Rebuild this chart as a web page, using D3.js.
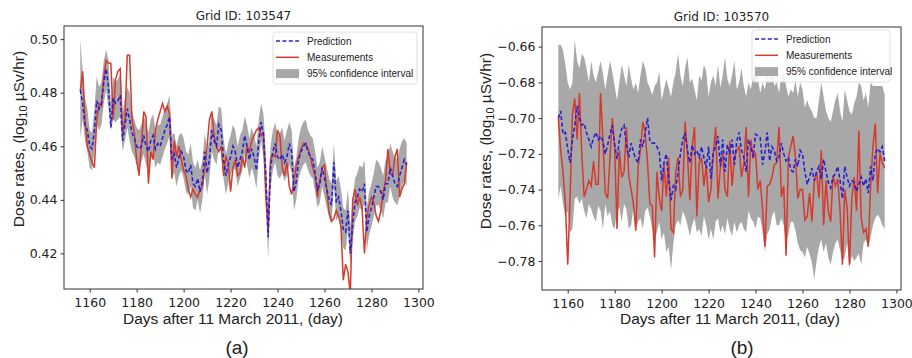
<!DOCTYPE html>
<html>
<head>
<meta charset="utf-8">
<script src="https://cdn.jsdelivr.net/npm/d3@7"></script>
<style>
  body { margin: 0; background: #fff; }
  svg text { fill: #222; }
</style>
</head>
<body>
<svg id="chart" width="912" height="358"></svg>
<script>
// days after 11 March 2011, one value per day
const days = d3.range(1156, 1296)

// ---- Grid ID 103547 ----
const predA = [
  .481,.476,.468,.466,.460,.459,.466,.477,.474,.476,
  .484,.489,.482,.467,.478,.476,.477,.479,.462,.468,
  .474,.470,.465,.463,.460,.459,.460,.464,.460,.458,
  .462,.464,.459,.461,.460,.463,.466,.468,.471,.455,
  .457,.452,.456,.458,.456,.451,.450,.453,.446,.445,
  .448,.443,.447,.458,.450,.455,.466,.462,.460,.468,
  .466,.455,.449,.453,.456,.460,.458,.452,.455,.458,
  .464,.460,.455,.459,.456,.451,.462,.469,.464,.449,
  .426,.452,.458,.461,.456,.455,.457,.454,.456,.461,
  .458,.443,.447,.455,.458,.460,.461,.458,.456,.455,
  .450,.444,.446,.452,.448,.444,.440,.438,.454,.439,
  .441,.436,.429,.428,.436,.420,.431,.439,.441,.444,
  .443,.446,.428,.434,.437,.441,.445,.445,.443,.440,
  .446,.446,.452,.449,.446,.445,.449,.452,.455,.453]
const measA = [
  .481,.488,.470,.460,.457,.454,.452,.470,.476,.475,
  .486,.492,.491,.491,.470,.485,.488,.489,.465,.470,
  .494,.494,.470,.465,.455,.449,.460,.473,.471,.446,
  .458,.455,.466,.470,.473,.476,.473,.475,.472,.448,
  .462,.456,.460,.455,.451,.449,.444,.441,.444,.442,
  .441,.444,.445,.452,.460,.470,.473,.464,.460,.458,
  .460,.449,.456,.454,.443,.452,.455,.449,.450,.456,
  .452,.460,.458,.462,.464,.466,.467,.464,.465,.441,
  .429,.455,.457,.456,.466,.464,.452,.449,.454,.445,
  .442,.447,.453,.456,.459,.461,.461,.459,.456,.452,
  .449,.441,.447,.452,.453,.443,.435,.432,.433,.436,
  .434,.430,.410,.416,.413,.405,.440,.444,.438,.441,
  .437,.420,.433,.438,.441,.439,.434,.432,.436,.443,
  .447,.459,.450,.449,.456,.459,.441,.444,.446,.454]
const upperA = [
  .500,.488,.478,.474,.466,.465,.474,.486,.482,.484,
  .492,.496,.492,.476,.486,.484,.485,.487,.472,.478,
  .482,.480,.473,.470,.467,.466,.468,.472,.468,.465,
  .470,.472,.466,.468,.468,.471,.474,.476,.479,.464,
  .465,.460,.464,.465,.463,.458,.457,.461,.454,.452,
  .455,.451,.455,.465,.458,.463,.473,.470,.468,.475,
  .474,.463,.457,.461,.464,.468,.466,.460,.464,.466,
  .471,.468,.463,.467,.464,.460,.470,.476,.472,.458,
  .436,.460,.466,.469,.464,.465,.467,.462,.466,.469,
  .466,.452,.456,.463,.467,.469,.470,.466,.464,.463,
  .458,.452,.454,.460,.456,.452,.448,.446,.461,.447,
  .449,.444,.437,.436,.444,.430,.440,.448,.450,.453,
  .452,.455,.437,.443,.446,.450,.455,.454,.452,.449,
  .455,.456,.461,.458,.456,.455,.459,.462,.463,.461]
const lowerA = [
  .463,.470,.462,.458,.452,.451,.458,.468,.466,.468,
  .476,.481,.474,.466,.470,.469,.470,.471,.458,.462,
  .467,.462,.458,.456,.453,.452,.454,.457,.453,.451,
  .455,.457,.452,.454,.453,.456,.459,.461,.464,.448,
  .450,.445,.449,.451,.448,.443,.442,.445,.437,.436,
  .440,.435,.440,.450,.442,.448,.458,.455,.453,.460,
  .458,.448,.442,.446,.449,.452,.451,.445,.448,.451,
  .457,.453,.448,.452,.449,.444,.455,.462,.456,.440,
  .418,.444,.451,.454,.449,.448,.450,.447,.449,.453,
  .450,.436,.440,.448,.451,.453,.454,.451,.449,.448,
  .443,.437,.439,.445,.441,.437,.433,.431,.446,.432,
  .434,.428,.422,.421,.429,.415,.424,.432,.434,.437,
  .436,.439,.421,.427,.430,.434,.438,.438,.436,.433,
  .439,.439,.445,.441,.439,.438,.441,.445,.447,.445]

// ---- Grid ID 103570 ----
const predB = [
  -.700,-.696,-.709,-.708,-.717,-.725,-.712,-.704,-.693,-.700,
  -.704,-.703,-.708,-.712,-.716,-.711,-.708,-.712,-.710,-.713,
  -.720,-.715,-.709,-.704,-.715,-.723,-.712,-.706,-.704,-.715,
  -.722,-.714,-.719,-.723,-.725,-.712,-.716,-.708,-.700,-.713,
  -.714,-.714,-.716,-.719,-.735,-.725,-.720,-.735,-.746,-.738,
  -.740,-.730,-.720,-.712,-.708,-.718,-.725,-.715,-.720,-.718,
  -.722,-.716,-.722,-.728,-.716,-.734,-.719,-.716,-.710,-.727,
  -.712,-.730,-.715,-.720,-.712,-.726,-.713,-.708,-.718,-.722,
  -.730,-.712,-.716,-.722,-.709,-.710,-.711,-.726,-.719,-.708,
  -.724,-.716,-.718,-.724,-.722,-.714,-.720,-.724,-.722,-.729,
  -.730,-.723,-.727,-.718,-.720,-.730,-.737,-.733,-.728,-.735,
  -.730,-.727,-.734,-.723,-.730,-.736,-.739,-.733,-.731,-.727,
  -.735,-.745,-.727,-.733,-.738,-.735,-.736,-.741,-.737,-.733,
  -.738,-.734,-.742,-.727,-.735,-.720,-.717,-.719,-.716,-.724]
const measB = [
  -.700,-.718,-.730,-.748,-.782,-.745,-.698,-.689,-.712,-.686,
  -.720,-.744,-.740,-.735,-.738,-.724,-.737,-.737,-.686,-.712,
  -.742,-.745,-.722,-.700,-.716,-.762,-.718,-.733,-.730,-.705,
  -.732,-.740,-.748,-.763,-.727,-.718,-.702,-.708,-.725,-.748,
  -.749,-.778,-.730,-.745,-.752,-.726,-.744,-.722,-.762,-.764,
  -.730,-.722,-.744,-.740,-.702,-.720,-.746,-.716,-.705,-.755,
  -.725,-.722,-.738,-.726,-.747,-.740,-.720,-.705,-.745,-.728,
  -.720,-.740,-.744,-.713,-.738,-.722,-.718,-.716,-.733,-.726,
  -.705,-.744,-.712,-.722,-.720,-.740,-.735,-.751,-.772,-.738,
  -.737,-.733,-.726,-.725,-.705,-.744,-.738,-.777,-.722,-.716,
  -.710,-.722,-.745,-.740,-.740,-.757,-.755,-.742,-.758,-.736,
  -.730,-.745,-.718,-.760,-.735,-.752,-.758,-.732,-.738,-.734,
  -.752,-.782,-.740,-.750,-.782,-.745,-.733,-.752,-.707,-.756,
  -.764,-.762,-.772,-.738,-.716,-.703,-.742,-.720,-.725,-.728]
const upperB = [
  -.659,-.659,-.662,-.670,-.680,-.684,-.680,-.656,-.668,-.672,
  -.664,-.666,-.672,-.680,-.668,-.676,-.680,-.674,-.668,-.675,
  -.684,-.676,-.668,-.674,-.682,-.690,-.680,-.670,-.676,-.682,
  -.670,-.678,-.684,-.680,-.686,-.676,-.668,-.672,-.680,-.683,
  -.687,-.682,-.680,-.674,-.690,-.684,-.678,-.683,-.688,-.680,
  -.674,-.664,-.676,-.682,-.672,-.666,-.680,-.678,-.684,-.690,
  -.676,-.679,-.670,-.674,-.688,-.680,-.676,-.682,-.670,-.683,
  -.676,-.666,-.678,-.682,-.676,-.668,-.684,-.680,-.672,-.682,
  -.688,-.680,-.684,-.676,-.674,-.678,-.686,-.680,-.684,-.676,
  -.680,-.672,-.682,-.680,-.686,-.676,-.674,-.682,-.688,-.684,
  -.686,-.679,-.688,-.680,-.684,-.694,-.690,-.694,-.696,-.700,
  -.700,-.690,-.680,-.688,-.696,-.700,-.702,-.696,-.690,-.686,
  -.696,-.702,-.684,-.690,-.696,-.698,-.692,-.688,-.680,-.682,
  -.690,-.686,-.694,-.680,-.682,-.682,-.682,-.682,-.682,-.687]
const lowerB = [
  -.745,-.738,-.748,-.755,-.752,-.764,-.762,-.745,-.744,-.748,
  -.745,-.752,-.756,-.748,-.751,-.755,-.758,-.749,-.752,-.762,
  -.748,-.755,-.752,-.760,-.762,-.752,-.750,-.758,-.748,-.751,
  -.762,-.760,-.750,-.762,-.758,-.756,-.762,-.752,-.750,-.755,
  -.762,-.768,-.764,-.758,-.768,-.764,-.775,-.772,-.785,-.770,
  -.760,-.757,-.760,-.752,-.755,-.760,-.766,-.760,-.756,-.764,
  -.762,-.766,-.755,-.760,-.768,-.762,-.768,-.758,-.756,-.764,
  -.760,-.765,-.756,-.762,-.766,-.758,-.764,-.760,-.758,-.762,
  -.764,-.752,-.756,-.758,-.762,-.755,-.756,-.764,-.775,-.765,
  -.762,-.755,-.752,-.760,-.760,-.756,-.760,-.770,-.765,-.758,
  -.758,-.763,-.770,-.774,-.775,-.778,-.772,-.776,-.781,-.790,
  -.780,-.772,-.768,-.775,-.770,-.778,-.782,-.775,-.770,-.768,
  -.774,-.780,-.778,-.770,-.784,-.777,-.780,-.778,-.776,-.782,
  -.770,-.768,-.772,-.767,-.760,-.756,-.754,-.756,-.760,-.762]

const xTicks = [1160, 1180, 1200, 1220, 1240, 1260, 1280, 1300]
const yTicksA = [0.42, 0.44, 0.46, 0.48, 0.50]
const yTicksB = [-0.78, -0.76, -0.74, -0.72, -0.70, -0.68, -0.66]

const legendItems = ["Prediction", "Measurements", "95% confidence interval"]
const PRED_COLOR = "#2a1fd2"
const MEAS_COLOR = "#d53a2c"
const BAND_COLOR = "#a8a8a8"

const svg = d3.select("#chart")
const tickFont = "'DejaVu Sans', sans-serif"
const labelFont = "'Liberation Sans', Arial, sans-serif"

function panel(cfg) {
  const x = d3.scaleLinear().domain([1149.05, 1301.95]).range([cfg.left, cfg.right])
  const y = d3.scaleLinear().domain(cfg.ydom).range([cfg.bottom, cfg.top])
  const g = svg.append("g")

  g.append("clipPath").attr("id", "clip" + cfg.id)
    .append("rect")
    .attr("x", cfg.left).attr("y", cfg.top)
    .attr("width", cfg.right - cfg.left).attr("height", cfg.bottom - cfg.top)

  const data = days.map((d, i) => ({day: d, p: cfg.pred[i], m: cfg.meas[i], u: cfg.upper[i], l: cfg.lower[i]}))
  const plot = g.append("g").attr("clip-path", "url(#clip" + cfg.id + ")")

  // confidence band
  plot.append("path")
    .datum(data)
    .attr("fill", BAND_COLOR)
    .attr("d", d3.area().x(d => x(d.day)).y0(d => y(d.l)).y1(d => y(d.u)))

  // measurements
  plot.append("path")
    .datum(data)
    .attr("fill", "none")
    .attr("stroke", MEAS_COLOR)
    .attr("stroke-width", 1.5)
    .attr("d", d3.line().x(d => x(d.day)).y(d => y(d.m)))

  // prediction
  plot.append("path")
    .datum(data)
    .attr("fill", "none")
    .attr("stroke", PRED_COLOR)
    .attr("stroke-width", 1.6)
    .attr("stroke-dasharray", "4,2.4")
    .attr("d", d3.line().x(d => x(d.day)).y(d => y(d.p)))

  // axes
  const xAxis = g.append("g")
    .attr("transform", "translate(0," + cfg.bottom + ")")
    .call(d3.axisBottom(x).tickValues(xTicks).tickFormat(d3.format("d")).tickSize(3.5).tickSizeOuter(0))
  const yAxis = g.append("g")
    .attr("transform", "translate(" + cfg.left + ",0)")
    .call(d3.axisLeft(y).tickValues(cfg.yticks).tickFormat(cfg.fmt).tickSize(3.5).tickSizeOuter(0))
  for (const ax of [xAxis, yAxis]) {
    ax.select(".domain").remove()
    ax.selectAll("line").attr("stroke", "#333")
    ax.selectAll("text").attr("font-family", tickFont).attr("font-size", "12.5px").attr("fill", "#222")
  }
  xAxis.selectAll("text").attr("dy", "0.95em")

  // frame
  g.append("rect")
    .attr("x", cfg.left).attr("y", cfg.top)
    .attr("width", cfg.right - cfg.left).attr("height", cfg.bottom - cfg.top)
    .attr("fill", "none").attr("stroke", "#333").attr("stroke-width", 1)

  // title
  g.append("text")
    .attr("x", (cfg.left + cfg.right) / 2).attr("y", cfg.top - 6)
    .attr("text-anchor", "middle")
    .attr("font-family", tickFont).attr("font-size", "12px")
    .text(cfg.title)

  // axis labels
  g.append("text")
    .attr("x", cfg.xlabelX).attr("y", 324)
    .attr("text-anchor", "middle")
    .attr("font-family", labelFont).attr("font-size", "15.5px")
    .text("Days after 11 March 2011, (day)")

  const yl = g.append("text")
    .attr("transform", "translate(" + cfg.ylabelX + "," + cfg.ylabelY + ") rotate(-90)")
    .attr("text-anchor", "middle")
    .attr("font-family", labelFont).attr("font-size", "15.5px")
  yl.append("tspan").text("Dose rates, (log")
  yl.append("tspan").attr("font-size", "11px").attr("dy", "3").text("10")
  yl.append("tspan").attr("dy", "-3").text(" \u00b5Sv/hr)")

  g.append("text")
    .attr("x", cfg.capX).attr("y", 354)
    .attr("text-anchor", "middle")
    .attr("font-family", labelFont).attr("font-size", "19px")
    .text(cfg.caption)

  // legend
  const lg = g.append("g").attr("transform", "translate(" + cfg.legX + "," + cfg.legY + ")")
  lg.append("rect")
    .attr("width", cfg.legW).attr("height", 52).attr("rx", 2.5)
    .attr("fill", "#fff").attr("fill-opacity", 0.85)
    .attr("stroke", "#d8d8d8").attr("stroke-width", 0.8)
  const rows = lg.selectAll("g.row").data(legendItems).join("g")
    .attr("class", "row")
    .attr("transform", (d, i) => "translate(0," + (9 + i * 16.3) + ")")
  rows.each(function(d, i) {
    const r = d3.select(this)
    if (i === 0) {
      r.append("line").attr("x1", 3).attr("x2", 26).attr("stroke", PRED_COLOR)
        .attr("stroke-width", 1.6).attr("stroke-dasharray", "4,2.4")
    } else if (i === 1) {
      r.append("line").attr("x1", 3).attr("x2", 26).attr("stroke", MEAS_COLOR).attr("stroke-width", 1.5)
    } else {
      r.append("rect").attr("x", 3).attr("y", -4.5).attr("width", 23).attr("height", 9).attr("fill", BAND_COLOR)
    }
    r.append("text").attr("x", 34).attr("y", 3.5)
      .attr("font-family", labelFont).attr("font-size", "10px").text(d)
  })
}

panel({
  id: "A", left: 64, right: 423, top: 26, bottom: 289,
  ydom: [0.4067, 0.5049], yticks: yTicksA, fmt: d3.format(".2f"),
  pred: predA, meas: measA, upper: upperA, lower: lowerA,
  title: "Grid ID: 103547", caption: "(a)", capX: 237,
  xlabelX: 233, ylabelX: 24, ylabelY: 139,
  legX: 273, legY: 32, legW: 144
})

panel({
  id: "B", left: 542, right: 901, top: 27, bottom: 290,
  ydom: [-0.7962, -0.649], yticks: yTicksB, fmt: d => d3.format(".2f")(d).replace("-", "\u2212"),
  pred: predB, meas: measB, upper: upperB, lower: lowerB,
  title: "Grid ID: 103570", caption: "(b)", capX: 742,
  xlabelX: 730, ylabelX: 491, ylabelY: 141,
  legX: 752, legY: 30, legW: 138
})
</script>
</body>
</html>
